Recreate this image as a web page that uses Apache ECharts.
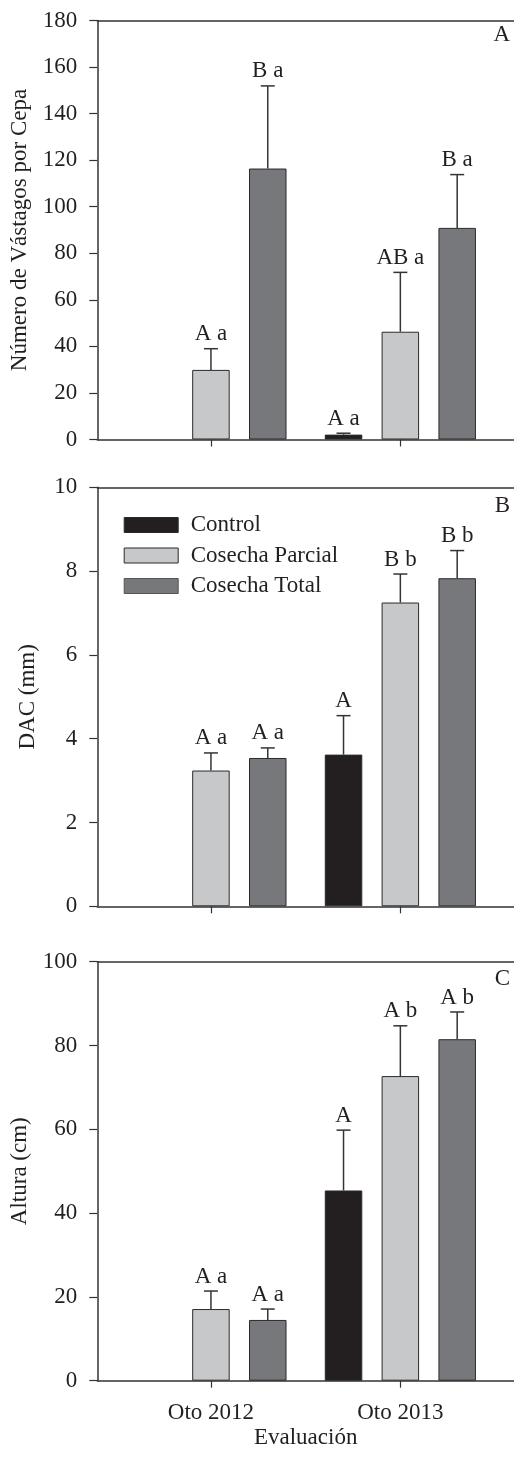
<!DOCTYPE html>
<html>
<head>
<meta charset="utf-8">
<script src="https://cdn.jsdelivr.net/npm/echarts@6/dist/echarts.min.js"></script>
<style>
html,body{margin:0;padding:0;background:#fff;}
#chart{width:514px;height:1457px;}
</style>
</head>
<body>
<div id="chart"></div>
<script>
// ---- data ----
const categories = ['Oto 2012', 'Oto 2013'];
const seriesNames = ['Control', 'Cosecha Parcial', 'Cosecha Total'];

// Panel A: Número de Vástagos por Cepa
const aControl = [null, 2.1];
const aControlSE = [null, 0.6];
const aParcial = [29.9, 46.3];
const aParcialSE = [9.1, 25.5];
const aTotal = [116.4, 90.9];
const aTotalSE = [35.5, 22.9];
const aControlLbl = [null, 'A a'];
const aParcialLbl = ['A a', 'AB a'];
const aTotalLbl = ['B a', 'B a'];

// Panel B: DAC (mm)
const bControl = [null, 3.62];
const bControlSE = [null, 0.93];
const bParcial = [3.24, 7.25];
const bParcialSE = [0.42, 0.68];
const bTotal = [3.54, 7.83];
const bTotalSE = [0.24, 0.66];
const bControlLbl = [null, 'A'];
const bParcialLbl = ['A a', 'B b'];
const bTotalLbl = ['A a', 'B b'];

// Panel C: Altura (cm)
const cControl = [null, 45.4];
const cControlSE = [null, 14.4];
const cParcial = [17.1, 72.7];
const cParcialSE = [4.3, 12.0];
const cTotal = [14.5, 81.5];
const cTotalSE = [2.6, 6.5];
const cControlLbl = [null, 'A'];
const cParcialLbl = ['A a', 'A b'];
const cTotalLbl = ['A a', 'A b'];

// y axes
const yMax = [180, 10, 100];
const yInterval = [20, 2, 20];
const yNames = ['Número de Vástagos por Cepa', 'DAC (mm)', 'Altura (cm)'];
const panelLetters = ['A', 'B', 'C'];
const xName = 'Evaluación';

// ---- styles ----
const FONT = '"Liberation Serif", "Times New Roman", serif';
const FS = 23;
const TXT = '#231f20';
const AX = '#333333';
const colors = ['#231f20', '#c7c8ca', '#77787b'];
const offsets = [-0.3, 0, 0.3];   // group offsets in axis units
const catPos = categories.map((c, i) => i + 1);

const panels = [
  {vals: [aControl, aParcial, aTotal], se: [aControlSE, aParcialSE, aTotalSE], lbl: [aControlLbl, aParcialLbl, aTotalLbl]},
  {vals: [bControl, bParcial, bTotal], se: [bControlSE, bParcialSE, bTotalSE], lbl: [bControlLbl, bParcialLbl, bTotalLbl]},
  {vals: [cControl, cParcial, cTotal], se: [cControlSE, cParcialSE, cTotalSE], lbl: [cControlLbl, cParcialLbl, cTotalLbl]}
];

const gridTops = [20.5, 487.3, 961.7];
const gridH = 419;

const grid = [], xAxis = [], yAxis = [], series = [], graphic = [];

panels.forEach((p, g) => {
  grid.push({left: 97.3, right: -1, top: gridTops[g], height: gridH, containLabel: false});
  xAxis.push({
    type: 'value', gridIndex: g, min: 0.4, max: 2.6, position: 'bottom',
    axisLine: {show: true, onZero: false, lineStyle: {color: AX, width: 1.5}},
    axisTick: {show: true, customValues: catPos, length: 7, lineStyle: {color: AX, width: 1.2}},
    axisLabel: {show: g === 2, customValues: catPos, margin: 21,
      formatter: v => categories[Math.round(v) - 1] || '',
      fontFamily: FONT, fontSize: FS, color: TXT},
    splitLine: {show: false},
    name: g === 2 ? xName : '', nameLocation: 'middle', nameGap: 46,
    nameTextStyle: {fontFamily: FONT, fontSize: FS, color: TXT}
  });
  xAxis.push({
    type: 'value', gridIndex: g, min: 0.4, max: 2.6, position: 'top',
    axisLine: {show: true, onZero: false, lineStyle: {color: AX, width: 1.5}},
    axisTick: {show: false}, axisLabel: {show: false}, splitLine: {show: false}
  });
  yAxis.push({
    type: 'value', gridIndex: g, min: 0, max: yMax[g], interval: yInterval[g],
    axisLine: {show: true, lineStyle: {color: AX, width: 1.5}},
    axisTick: {show: true, length: 8, lineStyle: {color: AX, width: 1.2}},
    axisLabel: {margin: 20, fontFamily: FONT, fontSize: FS, color: TXT},
    splitLine: {show: false},
    name: yNames[g], nameLocation: 'middle', nameGap: 58,
    nameTextStyle: {fontFamily: FONT, fontSize: FS, color: TXT}
  });

  p.vals.forEach((vals, s) => {
    series.push({
      type: 'bar', name: seriesNames[s], xAxisIndex: g * 2, yAxisIndex: g,
      barWidth: 37.5, barGap: '-100%',
      itemStyle: {color: colors[s], borderColor: '#2a2a2a', borderWidth: 1},
      emphasis: {disabled: true},
      data: vals.map((v, i) => v == null ? null : [catPos[i] + offsets[s], v]),
      z: 2
    });
  });

  // error bars + significance letters
  const errData = [];
  const errLbl = [];
  p.vals.forEach((vals, s) => {
    vals.forEach((v, i) => {
      if (v == null) return;
      errData.push([catPos[i] + offsets[s], v, p.se[s][i]]);
      errLbl.push(p.lbl[s][i]);
    });
  });
  series.push({
    type: 'custom', xAxisIndex: g * 2, yAxisIndex: g, z: 5,
    silent: true,
    data: errData,
    renderItem: function (params, api) {
      const x = api.value(0), m = api.value(1), e = api.value(2);
      const p1 = api.coord([x, m]);
      const p2 = api.coord([x, m + e]);
      const lbl = errLbl[params.dataIndex];
      return {
        type: 'group',
        children: [
          {type: 'line', shape: {x1: p1[0], y1: p1[1], x2: p2[0], y2: p2[1]}, style: {stroke: AX, lineWidth: 1.5}},
          {type: 'line', shape: {x1: p2[0] - 7, y1: p2[1], x2: p2[0] + 7, y2: p2[1]}, style: {stroke: AX, lineWidth: 1.5}},
          {type: 'text', style: {text: lbl, x: p2[0], y: p2[1] - 3, align: 'center', verticalAlign: 'bottom',
            fontFamily: FONT, fontSize: FS, fill: TXT}}
        ]
      };
    }
  });
});

// panel letters
const letterY = [49.5, 520.5, 993.5];
panelLetters.forEach((L, g) => {
  graphic.push({type: 'text', right: 4, top: letterY[g] - 26,
    style: {text: L, fontFamily: FONT, fontSize: FS, fill: TXT}});
});

const chart = echarts.init(document.getElementById('chart'), null, {renderer: 'canvas'});
chart.setOption({
  animation: false,
  backgroundColor: '#ffffff',
  grid, xAxis, yAxis, series, graphic,
  legend: {
    data: seriesNames.map((n, s) => ({name: n, icon: 'rect',
      itemStyle: {color: colors[s], borderColor: s === 2 ? '#555' : '#2a2a2a', borderWidth: 1}})),
    orient: 'vertical', left: 123.7, top: 513.5, padding: 0,
    itemWidth: 54, itemHeight: 15, itemGap: 7.5,
    selectedMode: false,
    textStyle: {fontFamily: FONT, fontSize: FS, color: TXT, padding: [0, 0, 0, 7.5]}
  }
});
</script>
</body>
</html>
